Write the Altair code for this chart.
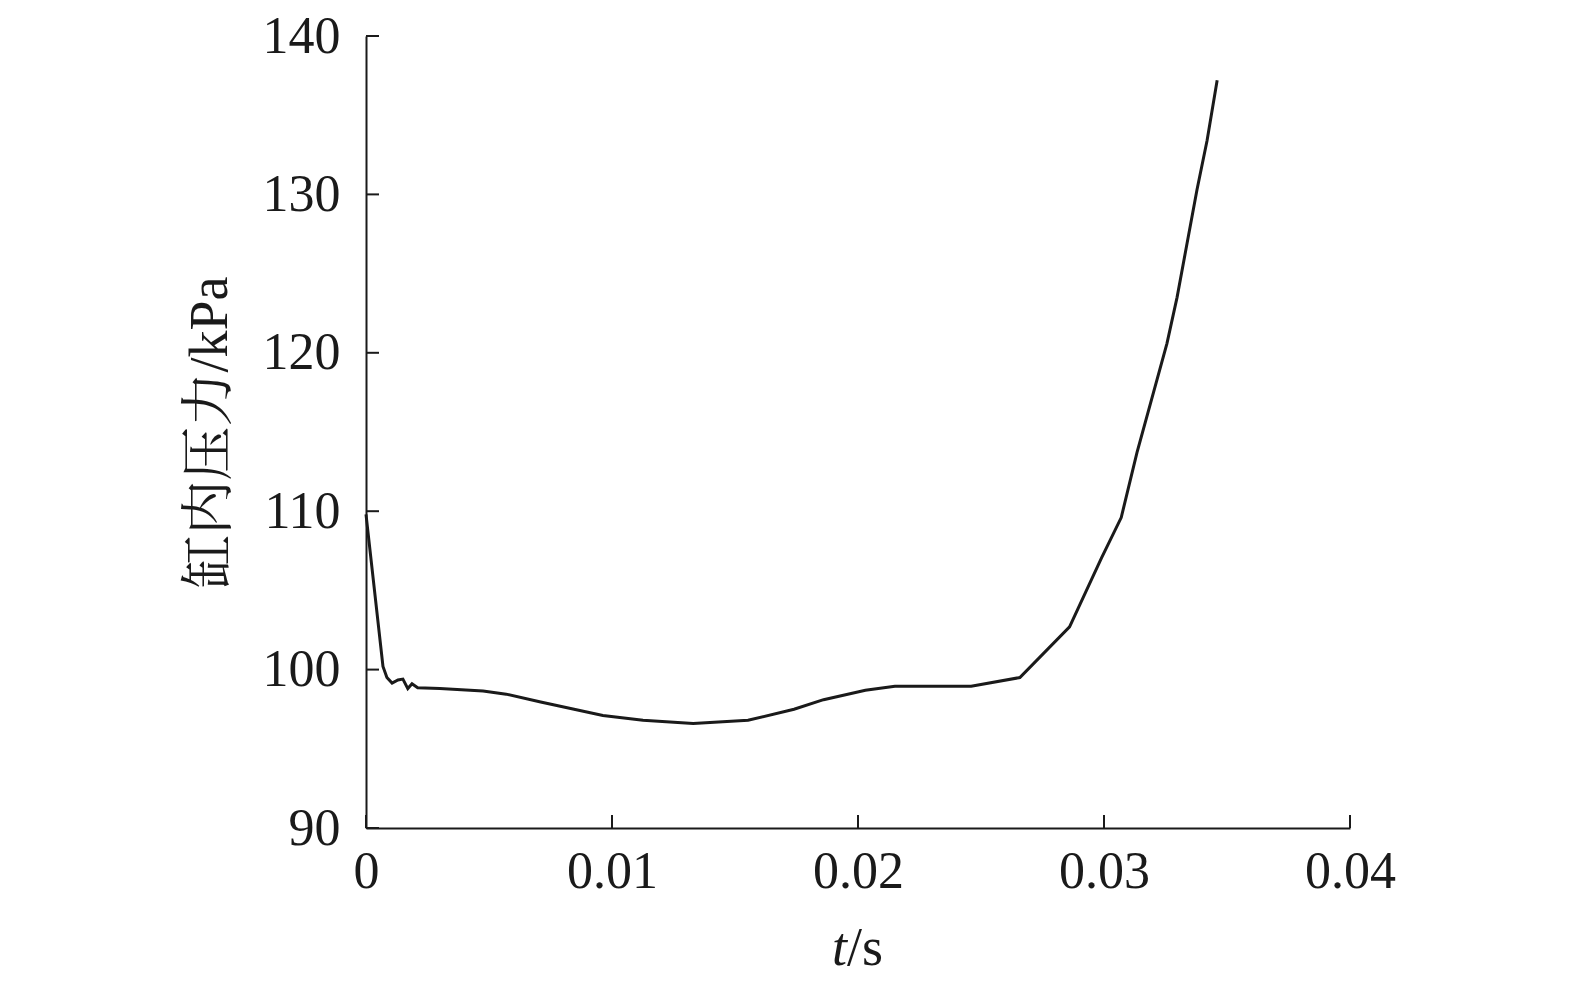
import altair as alt
import pandas as pd

# time (s) and in-cylinder pressure (kPa)
t_vals = [0.0, 0.00069, 0.00085, 0.00106, 0.0013, 0.0015, 0.0017, 0.00187, 0.0021,
          0.003, 0.00476, 0.0057, 0.0071, 0.00963, 0.01126, 0.0133, 0.01553,
          0.0174, 0.0186, 0.0203, 0.0215, 0.0246, 0.02658, 0.0286, 0.0299,
          0.0307, 0.03134, 0.03256, 0.03297, 0.03378, 0.03419, 0.0346]
p_vals = [109.8, 100.2, 99.5, 99.15, 99.35, 99.4, 98.8, 99.1, 98.85,
          98.8, 98.65, 98.45, 97.95, 97.1, 96.8, 96.6, 96.8,
          97.5, 98.1, 98.7, 98.95, 98.95, 99.5, 102.7, 107.05,
          109.6, 113.7, 120.6, 123.5, 130.3, 133.4, 137.2]

x_ticks = [0, 0.01, 0.02, 0.03, 0.04]
y_ticks = [90, 100, 110, 120, 130, 140]

W, H = 984, 792
FONT = "Liberation Serif, Noto Serif CJK SC, Noto Sans CJK SC"
FS = 52
TFS = 54
INK = "#1a1a1a"

df = pd.DataFrame({"t": t_vals, "p": p_vals})
xs = alt.Scale(domain=[0, 0.04], nice=False, zero=False)
ys = alt.Scale(domain=[90, 140], nice=False, zero=False)

line = alt.Chart(df).mark_line(color=INK, strokeWidth=3).encode(
    x=alt.X("t:Q", scale=xs,
            axis=alt.Axis(values=x_ticks, format="~g", title=None, grid=False,
                          ticks=False, domainColor=INK, domainWidth=2,
                          labelFont=FONT, labelFontSize=FS, labelColor=INK,
                          labelPadding=18, labelFlush=False, labelOverlap=False)),
    y=alt.Y("p:Q", scale=ys,
            axis=alt.Axis(values=y_ticks, title="缸内压力/kPa", grid=False,
                          ticks=False, domainColor=INK, domainWidth=2,
                          labelFont=FONT, labelFontSize=FS, labelColor=INK,
                          labelPadding=26, labelFlush=False, labelOverlap=False,
                          titleFont=FONT, titleFontSize=TFS,
                          titleFontWeight="normal", titleColor=INK,
                          titlePadding=25)),
)

ytick = alt.Chart(pd.DataFrame({"p": y_ticks})).mark_rule(color=INK, strokeWidth=2).encode(
    y=alt.Y("p:Q", scale=ys), x=alt.value(0), x2=alt.value(13))
xtick = alt.Chart(pd.DataFrame({"t": x_ticks})).mark_rule(color=INK, strokeWidth=2).encode(
    x=alt.X("t:Q", scale=xs), y=alt.value(H), y2=alt.value(H - 13))

t_lbl = alt.Chart(pd.DataFrame({"s": ["t"]})).mark_text(
    font=FONT, fontSize=TFS, fontStyle="italic", color=INK, align="right",
    baseline="alphabetic").encode(text="s:N", x=alt.value(481), y=alt.value(929))
s_lbl = alt.Chart(pd.DataFrame({"s": ["/s"]})).mark_text(
    font=FONT, fontSize=TFS, color=INK, align="left",
    baseline="alphabetic").encode(text="s:N", x=alt.value(481), y=alt.value(929))

chart = alt.layer(line, ytick, xtick, t_lbl, s_lbl).properties(
    width=W, height=H,
    autosize=alt.AutoSizeParams(type="none"),
    padding={"left": 358, "top": 28, "right": 100, "bottom": 150},
    background="white",
).configure_view(stroke=None, strokeWidth=0)

chart.save("out.html", embed_options={"renderer": "svg", "actions": False})
